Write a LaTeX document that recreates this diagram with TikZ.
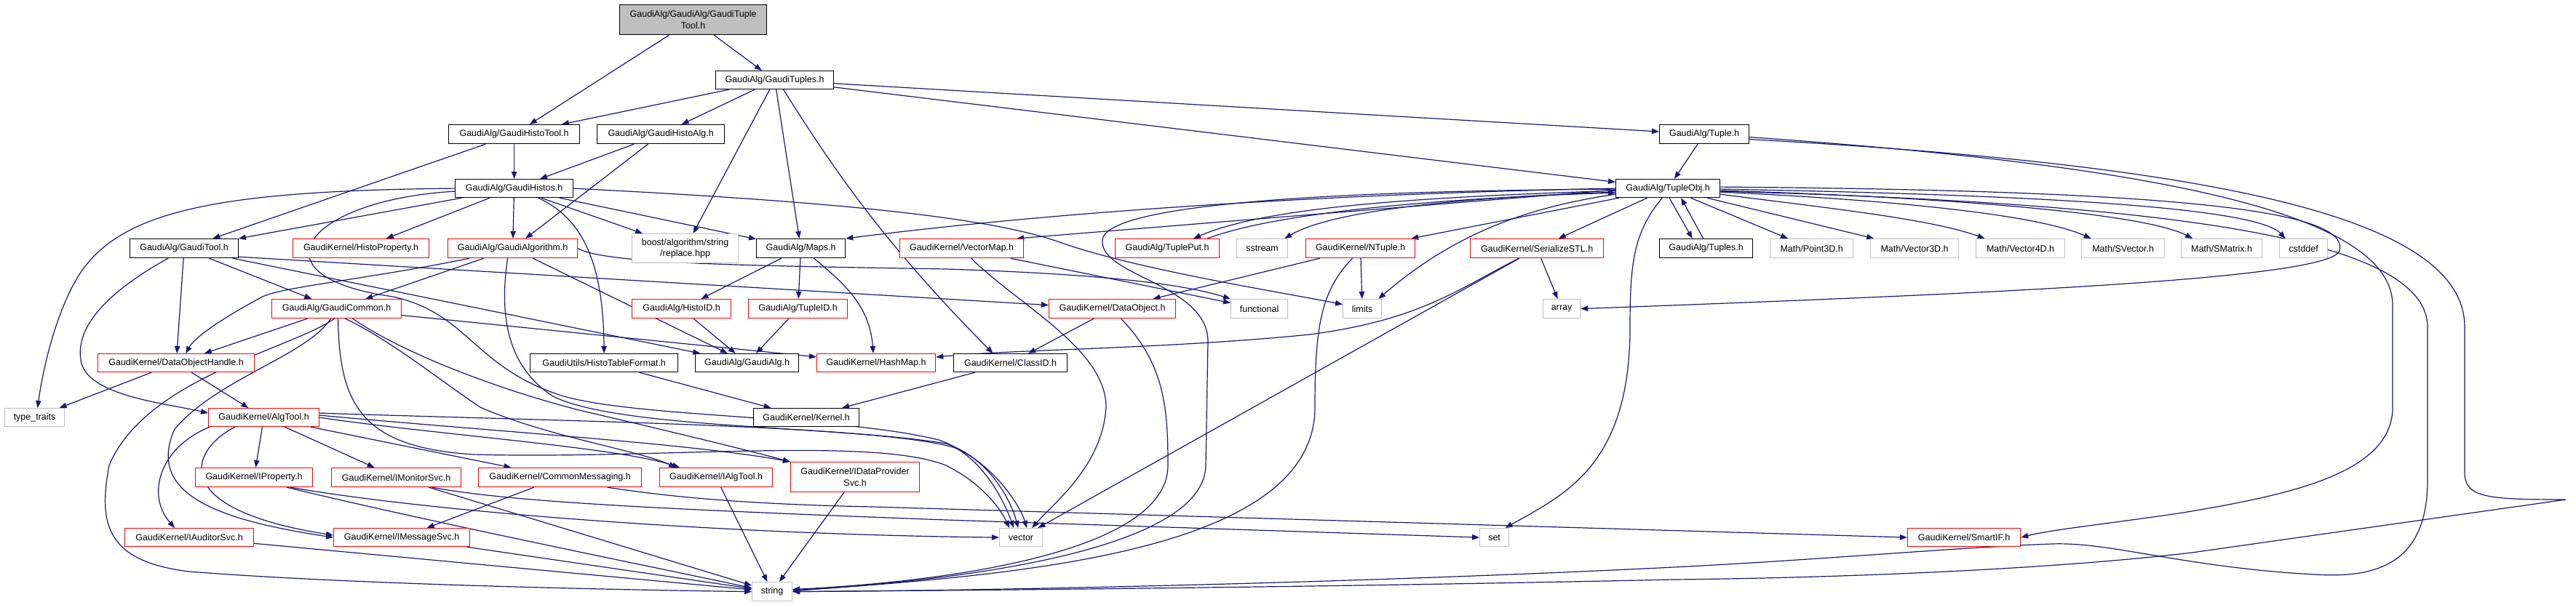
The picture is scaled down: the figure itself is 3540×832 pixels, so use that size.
\documentclass[tikz,border=0pt]{standalone}
\usepackage{fontspec}
\setmainfont{Liberation Sans}
\usetikzlibrary{arrows.meta,calc}
\definecolor{edgeblue}{HTML}{191970}
\definecolor{graybord}{HTML}{BFBFBF}
\definecolor{topfill}{HTML}{BFBFBF}
\pgfdeclarelayer{bg}
\pgfdeclarelayer{edges}
\pgfsetlayers{bg,edges,main}
\begin{document}
\begin{tikzpicture}[x=1pt,y=-1pt,
  nbox/.style={draw, line width=1.2pt, anchor=north west, inner sep=1pt, fill=white,
    font=\fontsize{12.5}{15.3}\selectfont, align=center},
  blkbox/.style={nbox, draw=black},
  redbox/.style={nbox, draw=red},
  graybox/.style={nbox, draw=graybord},
  topbox/.style={nbox, draw=black, fill=topfill},
  edg/.style={draw=edgeblue, line width=1.2pt, -{Triangle[length=10pt,width=7.5pt]}}]
\useasboundingbox (0,0) rectangle (3540,832);
\begin{pgfonlayer}{bg}
\fill[white] (0,0) rectangle (3540,832);
\end{pgfonlayer}
% ---------- nodes ----------
\node[topbox, minimum width=202pt, minimum height=41pt] (T) at (851,6) {GaudiAlg/GaudiAlg/GaudiTuple\\Tool.h};
\node[blkbox, minimum width=162pt, minimum height=25pt] (Tuples) at (983,97) {GaudiAlg/GaudiTuples.h};
\node[blkbox, minimum width=180pt, minimum height=26pt] (HistoTool) at (616,171) {GaudiAlg/GaudiHistoTool.h};
\node[blkbox, minimum width=175pt, minimum height=26pt] (HistoAlg) at (820,171) {GaudiAlg/GaudiHistoAlg.h};
\node[blkbox, minimum width=123pt, minimum height=26pt] (Tuple) at (2280,171) {GaudiAlg/Tuple.h};
\node[blkbox, minimum width=162pt, minimum height=25pt] (Histos) at (625,246) {GaudiAlg/GaudiHistos.h};
\node[blkbox, minimum width=143pt, minimum height=25pt] (TupleObj) at (2220,246) {GaudiAlg/TupleObj.h};
\node[blkbox, minimum width=149pt, minimum height=26pt] (GaudiTool) at (178,328) {GaudiAlg/GaudiTool.h};
\node[redbox, minimum width=187pt, minimum height=26pt] (HistoProperty) at (402,328) {GaudiKernel/HistoProperty.h};
\node[redbox, minimum width=178pt, minimum height=26pt] (GaudiAlgorithm) at (615,328) {GaudiAlg/GaudiAlgorithm.h};
\node[graybox, minimum width=146pt, minimum height=40pt] (replace) at (868,321) {boost/algorithm/string\\/replace.hpp};
\node[blkbox, minimum width=122pt, minimum height=26pt] (Maps) at (1039,328) {GaudiAlg/Maps.h};
\node[redbox, minimum width=170pt, minimum height=26pt] (VectorMap) at (1236,328) {GaudiKernel/VectorMap.h};
\node[redbox, minimum width=143pt, minimum height=26pt] (TuplePut) at (1532,328) {GaudiAlg/TuplePut.h};
\node[graybox, minimum width=70pt, minimum height=26pt] (sstream) at (1699,328) {sstream};
\node[redbox, minimum width=150pt, minimum height=26pt] (NTuple) at (1794,328) {GaudiKernel/NTuple.h};
\node[redbox, minimum width=183pt, minimum height=26pt] (SerializeSTL) at (2020,328) {GaudiKernel/SerializeSTL.h};
\node[blkbox, minimum width=128pt, minimum height=26pt] (TuplesB) at (2280,328) {GaudiAlg/Tuples.h};
\node[graybox, minimum width=114pt, minimum height=26pt] (Point3D) at (2432,328) {Math/Point3D.h};
\node[graybox, minimum width=121pt, minimum height=26pt] (Vector3D) at (2570,328) {Math/Vector3D.h};
\node[graybox, minimum width=122pt, minimum height=26pt] (Vector4D) at (2715,328) {Math/Vector4D.h};
\node[graybox, minimum width=114pt, minimum height=26pt] (SVector) at (2860,328) {Math/SVector.h};
\node[graybox, minimum width=111pt, minimum height=26pt] (SMatrix) at (2997,328) {Math/SMatrix.h};
\node[graybox, minimum width=66pt, minimum height=26pt] (cstddef) at (3132,328) {cstddef};
\node[redbox, minimum width=178pt, minimum height=26pt] (GaudiCommon) at (373,411) {GaudiAlg/GaudiCommon.h};
\node[redbox, minimum width=136pt, minimum height=26pt] (HistoID) at (868,411) {GaudiAlg/HistoID.h};
\node[redbox, minimum width=136pt, minimum height=26pt] (TupleID) at (1028,411) {GaudiAlg/TupleID.h};
\node[redbox, minimum width=174pt, minimum height=26pt] (DataObject) at (1441,411) {GaudiKernel/DataObject.h};
\node[graybox, minimum width=78pt, minimum height=26pt] (functional) at (1691,411) {functional};
\node[graybox, minimum width=53pt, minimum height=26pt] (limits) at (1845,411) {limits};
\node[graybox, minimum width=51pt, minimum height=26pt] (array) at (2120,411) {array};
\node[redbox, minimum width=215pt, minimum height=25pt] (DOH) at (134,486) {GaudiKernel/DataObjectHandle.h};
\node[blkbox, minimum width=203pt, minimum height=25pt] (HTF) at (728,486) {GaudiUtils/HistoTableFormat.h};
\node[blkbox, minimum width=142pt, minimum height=25pt] (GaudiAlgH) at (955,486) {GaudiAlg/GaudiAlg.h};
\node[redbox, minimum width=163pt, minimum height=25pt] (HashMap) at (1122,486) {GaudiKernel/HashMap.h};
\node[blkbox, minimum width=156pt, minimum height=25pt] (ClassID) at (1310,486) {GaudiKernel/ClassID.h};
\node[graybox, minimum width=82pt, minimum height=25pt] (typetraits) at (6,561) {type\_traits};
\node[redbox, minimum width=152pt, minimum height=25pt] (AlgTool) at (286,561) {GaudiKernel/AlgTool.h};
\node[blkbox, minimum width=145pt, minimum height=25pt] (Kernel) at (1035,561) {GaudiKernel/Kernel.h};
\node[redbox, minimum width=161pt, minimum height=26pt] (IProperty) at (268,643) {GaudiKernel/IProperty.h};
\node[redbox, minimum width=178pt, minimum height=26pt] (IMonitorSvc) at (455,643) {GaudiKernel/IMonitorSvc.h};
\node[redbox, minimum width=224pt, minimum height=26pt] (CommonMessaging) at (657,643) {GaudiKernel/CommonMessaging.h};
\node[redbox, minimum width=155pt, minimum height=26pt] (IAlgTool) at (906,643) {GaudiKernel/IAlgTool.h};
\node[redbox, minimum width=177pt, minimum height=41pt] (IDataProviderSvc) at (1086,635) {GaudiKernel/IDataProvider\\Svc.h};
\node[redbox, minimum width=177pt, minimum height=25pt] (IAuditorSvc) at (171,726) {GaudiKernel/IAuditorSvc.h};
\node[redbox, minimum width=187pt, minimum height=25pt] (IMessageSvc) at (458,726) {GaudiKernel/IMessageSvc.h};
\node[graybox, minimum width=59pt, minimum height=25pt] (vector) at (1373,726) {vector};
\node[graybox, minimum width=40pt, minimum height=25pt] (set) at (2033,726) {set};
\node[redbox, minimum width=155pt, minimum height=25pt] (SmartIF) at (2621,726) {GaudiKernel/SmartIF.h};
\node[graybox, minimum width=55pt, minimum height=26pt] (string) at (1033,800) {string};
% ---------- edges ----------
\begin{pgfonlayer}{edges}
\draw[edg] (T) -- (HistoTool);
\draw[edg] (T) -- (Tuples);
\draw[edg] (Tuples) -- (HistoTool);
\draw[edg] (Tuples) -- (HistoAlg);
\draw[edg] ($(Tuples.south)+(-7,0)$) -- ($(replace.north)+(11,0)$);
\draw[edg] (Tuples) -- (Maps);
\draw[edg] ($(Tuples.south)+(12,0)$) .. controls (1150,240) and (1220,340) .. ($(ClassID.north)+(-24,0)$);
\draw[edg] (Tuples) -- (Tuple);
\draw[edg] (Tuples) -- (TupleObj);
\draw[edg] (HistoTool) -- (Histos);
\draw[edg] (HistoTool) -- (GaudiTool);
\draw[edg] (HistoAlg) -- (Histos);
\draw[edg] (HistoAlg) -- (GaudiAlgorithm);
% GaudiHistos
\draw[edg] (Histos.west) .. controls (300,262) and (170,290) .. (112,373) .. controls (80,420) and (60,500) .. ($(typetraits.north)+(4,0)$);
\draw[edg] (Histos) -- (GaudiTool);
\draw[edg] (Histos) -- (HistoProperty);
\draw[edg] (Histos) -- (GaudiAlgorithm);
\draw[edg] (Histos) -- (replace);
\draw[edg] (Histos) -- (Maps);
\draw[edg] ($(Histos.south)+(33,0)$) .. controls (800,300) and (829,360) .. (HTF.north);
\draw[edg] (Histos.east) .. controls (1100,275) and (1350,295) .. (1456,333) .. controls (1560,370) and (1750,400) .. ($(limits.west)+(0,-6)$);
\draw[edg] ($(Histos.west)+(0,4)$) .. controls (420,275) and (340,380) .. (540,408) .. controls (640,430) and (650,500) .. (760,540) .. controls (850,575) and (1150,570) .. (1290,605) .. controls (1350,625) and (1380,690) .. ($(vector.north)+(-10,0)$);
% GaudiAlgorithm
\draw[edg] (GaudiAlgorithm) -- (GaudiCommon);
\draw[edg] ($(GaudiAlgorithm.south west)+(30,0)$) .. controls (500,385) and (380,395) .. (357,410) .. controls (320,430) and (270,460) .. ($(DOH.north)+(13,0)$);
\draw[edg] (GaudiAlgorithm) -- (GaudiAlgH);
\draw[edg] ($(GaudiAlgorithm.south)+(-7,0)$) .. controls (688,420) and (690,500) .. (760,545) .. controls (850,590) and (1150,585) .. (1300,610) .. controls (1360,630) and (1390,690) .. ($(vector.north)+(-4,0)$);
\draw[edg] (GaudiAlgorithm.east) .. controls (830,362) and (1000,365) .. (1300,370) .. controls (1550,378) and (1640,395) .. (functional.north west);
% GaudiTool
\draw[edg] (GaudiTool) -- (GaudiCommon);
\draw[edg] (GaudiTool) -- (DOH);
\draw[edg] ($(GaudiTool.south)+(-22,0)$) .. controls (150,400) and (100,450) .. (112,500) .. controls (125,545) and (230,555) .. ($(AlgTool.west)+(0,-6)$);
\draw[edg] (GaudiTool) -- (GaudiAlgH);
\draw[edg] ($(GaudiTool.south east)+(0,-2)$) -- ($(DataObject.west)+(0,-5)$);
% GaudiCommon
\draw[edg] (GaudiCommon) -- (DOH);
\draw[edg] (GaudiCommon) -- (HashMap);
\draw[edg] ($(GaudiCommon.south)+(-3,0)$) .. controls (400,480) and (200,520) .. (150,640) .. controls (135,720) and (145,772) .. (260,786) .. controls (500,805) and (900,812) .. (string.west);
\draw[edg] ($(GaudiCommon.south)+(-8,0)$) .. controls (420,490) and (300,520) .. (240,590) .. controls (200,680) and (300,715) .. (IMessageSvc.west);
\draw[edg] ($(GaudiCommon.south)+(2,0)$) .. controls (466,560) and (500,615) .. (650,625) .. controls (900,632) and (1200,600) .. (1300,640) .. controls (1350,665) and (1375,700) .. ($(vector.north)+(-16,0)$);
\draw[edg] ($(GaudiCommon.south)+(12,0)$) .. controls (540,470) and (600,520) .. (660,560) .. controls (750,600) and (880,620) .. ($(IAlgTool.north)+(-55,0)$);
\draw[edg] ($(GaudiCommon.south)+(22,0)$) .. controls (560,490) and (700,540) .. (800,565) .. controls (950,600) and (1030,620) .. (IDataProviderSvc.north west);
% AlgTool
\draw[edg] (AlgTool) -- (IProperty);
\draw[edg] (AlgTool) -- (IMonitorSvc);
\draw[edg] (AlgTool) -- (CommonMessaging);
\draw[edg] (AlgTool.east) .. controls (600,598) and (850,615) .. ($(IAlgTool.north)+(-50,0)$);
\draw[edg] ($(AlgTool.east)+(0,-3)$) .. controls (700,595) and (950,610) .. (IDataProviderSvc.north west);
\draw[edg] ($(AlgTool.east)+(0,-6)$) .. controls (800,580) and (1200,585) .. (1310,615) .. controls (1360,635) and (1400,690) .. ($(vector.north)+(8,0)$);
\draw[edg] ($(AlgTool.south west)+(2,0)$) .. controls (220,615) and (200,680) .. ($(IAuditorSvc.north)+(-20,0)$);
\draw[edg] ($(AlgTool.south)+(-40,0)$) .. controls (260,620) and (230,700) .. ($(IMessageSvc.west)+(0,-3)$);
% interfaces
\draw[edg] ($(IMonitorSvc.south)+(49,0)$) .. controls (700,690) and (900,700) .. (1300,715) -- (set.west);
\draw[edg] (IMonitorSvc) -- (string);
\draw[edg] (CommonMessaging) -- (IMessageSvc);
\draw[edg] ($(CommonMessaging.south)+(65,0)$) .. controls (900,680) and (1000,693) .. (1200,697) -- (SmartIF.west);
\draw[edg] ($(IProperty.south)+(45,0)$) .. controls (600,720) and (900,780) .. ($(string.west)+(0,-5)$);
\draw[edg] ($(IProperty.south)+(50,0)$) .. controls (600,705) and (1000,735) .. (vector.west);
\draw[edg] (IAlgTool) -- (string);
\draw[edg] (IDataProviderSvc) -- (string);
\draw[edg] (IAuditorSvc) -- (string);
\draw[edg] (IMessageSvc) -- (string);
\draw[edg] (DOH) -- (typetraits);
\draw[edg] (DOH) -- (AlgTool);
% Maps etc.
\draw[edg] (Maps) -- (HistoID);
\draw[edg] (Maps) -- (TupleID);
\draw[edg] ($(Maps.south)+(18,0)$) .. controls (1160,390) and (1195,420) .. ($(HashMap.north)+(-4,0)$);
\draw[edg] (HistoID) -- (GaudiAlgH);
\draw[edg] (TupleID) -- (GaudiAlgH);
\draw[edg] (HTF) -- (Kernel);
\draw[edg] (ClassID) -- (Kernel);
\draw[edg] (DataObject) -- (ClassID);
\draw[edg] ($(DataObject.south)+(12,0)$) .. controls (1600,500) and (1605,560) .. (1605,640) .. controls (1605,760) and (1300,800) .. ($(string.east)+(0,-3)$);
\draw[edg] ($(VectorMap.south)+(13,0)$) .. controls (1400,420) and (1520,480) .. (1520,560) .. controls (1515,640) and (1450,690) .. ($(vector.north)+(15,0)$);
\draw[edg] (VectorMap) -- (functional);
\draw[edg] (NTuple) -- (DataObject);
\draw[edg] (NTuple) -- (limits);
\draw[edg] ($(NTuple.south)+(-11,0)$) .. controls (1815,400) and (1807,450) .. (1807,560) .. controls (1807,760) and (1400,790) .. ($(string.east)+(0,-1)$);
\draw[edg] ($(SerializeSTL.south)+(-25,0)$) .. controls (2000,400) and (1950,440) .. (1800,460) .. controls (1600,480) and (1400,480) .. ($(HashMap.east)+(0,-8)$);
\draw[edg] (SerializeSTL) -- (vector);
\draw[edg] (SerializeSTL) -- (array);
% TupleObj
\draw[edg] (TupleObj.west) .. controls (1900,265) and (1500,285) .. (Maps.north east);
\draw[edg] ($(TupleObj.west)+(0,2)$) -- ($(VectorMap.north east)+(-10,0)$);
\draw[edg] ($(TupleObj.west)+(0,3)$) .. controls (2000,270) and (1750,280) .. ($(TuplePut.north)+(36,0)$);
\draw[edg] ($(TuplePut.north)+(55,0)$) .. controls (1760,290) and (2000,272) .. ($(TupleObj.west)+(0,6)$);
\draw[edg] ($(TupleObj.west)+(0,5)$) .. controls (2000,272) and (1830,290) .. ($(sstream.north east)+(-5,0)$);
\draw[edg] (TupleObj) -- (NTuple);
\draw[edg] (TupleObj) -- (SerializeSTL);
\draw[edg] ($(TupleObj.west)+(0,8)$) .. controls (2100,285) and (2000,320) .. ($(limits.north east)+(-5,0)$);
\draw[edg] ($(TupleObj.south)+(-8,0)$) .. controls (2245,320) and (2240,360) .. (2240,450) .. controls (2240,640) and (2150,680) .. ($(set.north)+(15,0)$);
\draw[edg] ($(TupleObj.south)+(2,0)$) -- ($(TuplesB.north)+(-19,0)$);
\draw[edg] ($(TuplesB.north)+(-4,0)$) -- ($(TupleObj.south)+(18,0)$);
\draw[edg] (TupleObj) -- (Point3D);
\draw[edg] (TupleObj) -- (Vector3D);
\draw[edg] ($(TupleObj.east)+(0,8)$) .. controls (2500,285) and (2650,300) .. ($(Vector4D.north)+(-49,0)$);
\draw[edg] ($(TupleObj.east)+(0,5)$) .. controls (2600,275) and (2800,295) .. ($(SVector.north)+(-44,0)$);
\draw[edg] ($(TupleObj.east)+(0,3)$) .. controls (2700,272) and (2950,295) .. ($(SMatrix.north)+(-40,0)$);
\draw[edg] ($(TupleObj.east)+(0,1)$) .. controls (2800,268) and (3100,285) .. ($(cstddef.north)+(-25,0)$);
\draw[edg] ($(TupleObj.east)+(0,-2)$) .. controls (3000,262) and (3230,290) .. (3215,345) .. controls (3200,385) and (2700,405) .. (array.east);
\draw[edg] ($(TupleObj.east)+(0,4)$) .. controls (3000,280) and (3336,330) .. (3336,450) -- (3336,660) .. controls (3336,780) and (3260,795) .. (3180,790) .. controls (3000,780) and (2900,745) .. (2820,748) .. controls (2700,752) and (2500,770) .. (2300,780) .. controls (1900,800) and (1400,812) .. (string.east);
\draw[edg] ($(TupleObj.west)+(0,1)$) .. controls (1900,262) and (1520,275) .. (1515,330) .. controls (1510,380) and (1660,390) .. (1660,470) -- (1657,640) .. controls (1655,760) and (1300,800) .. ($(string.east)+(0,-2)$);
% Tuple
\draw[edg] (Tuple) -- (TupleObj);
\draw[edg] ($(Tuple.east)+(0,4)$) .. controls (3000,230) and (3288,300) .. (3288,420) -- (3288,560) .. controls (3288,650) and (3150,680) .. (3000,705) .. controls (2900,720) and (2820,728) .. (SmartIF.east);
\draw[edg] ($(Tuple.east)+(0,7)$) .. controls (3100,230) and (3387,310) .. (3387,450) -- (3387,650) .. controls (3387,685) and (3420,687) .. (3526,687) -- (3012,760) .. controls (2800,785) and (2500,795) .. (2300,797) .. controls (1800,808) and (1300,812) .. (string.east);
\end{pgfonlayer}
\end{tikzpicture}
\end{document}
